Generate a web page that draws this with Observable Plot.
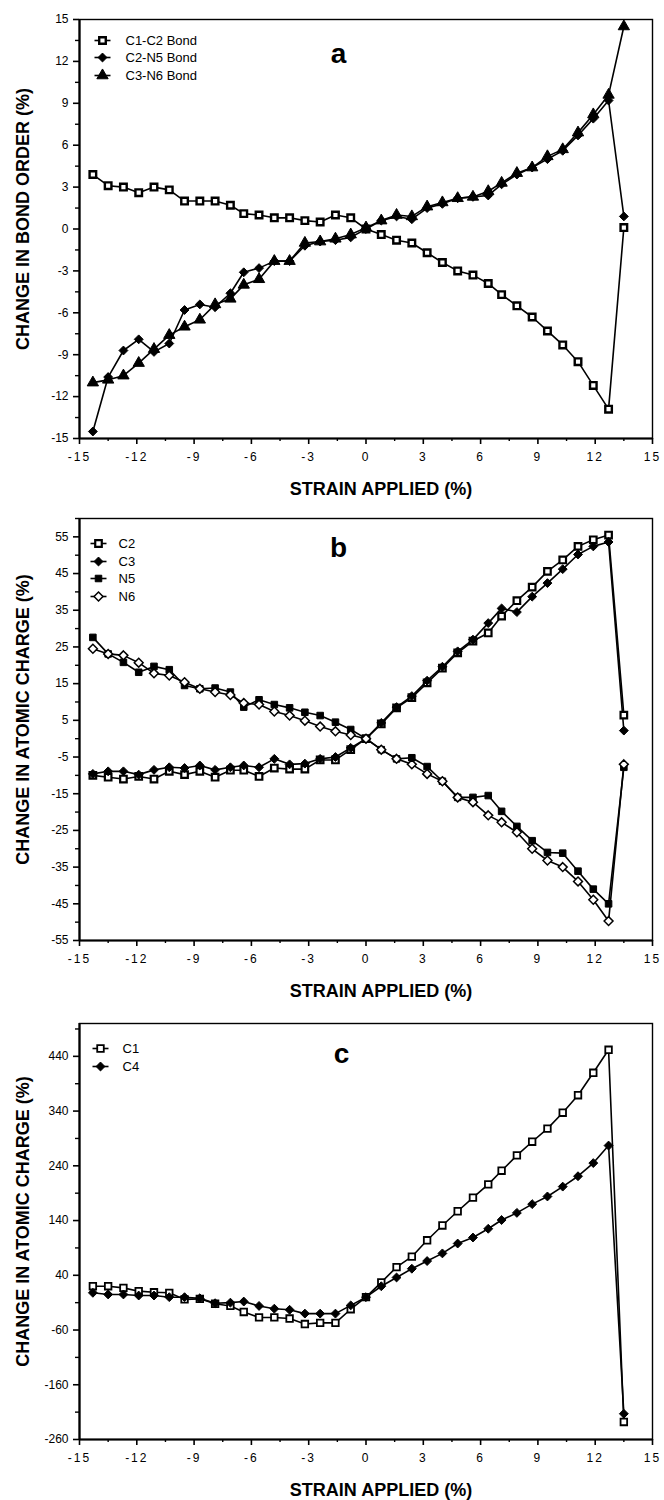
<!DOCTYPE html>
<html><head><meta charset="utf-8">
<script src="https://cdn.jsdelivr.net/npm/d3@7"></script>
<script src="https://cdn.jsdelivr.net/npm/@observablehq/plot@0.6"></script>
<style>
body{margin:0;background:#fff;}
#chart svg{display:block;}
g[aria-label="x-axis tick label"] text{letter-spacing:2px;}
</style></head><body><div id="chart"></div>
<script>
// strain applied (%) — common x values
const strain = [-14.3,-13.5,-12.7,-11.9,-11.1,-10.3,-9.5,-8.7,-7.9,-7.1,-6.4,-5.6,-4.8,-4.0,-3.2,-2.4,-1.6,-0.8,0,0.8,1.6,2.4,3.2,4.0,4.8,5.6,6.4,7.1,7.9,8.7,9.5,10.3,11.1,11.9,12.7,13.5];

// panel a: change in bond order (%)
const bondC1C2 = [3.9,3.1,3.0,2.6,3.0,2.8,2.0,2.0,2.0,1.7,1.1,1.0,0.8,0.8,0.6,0.5,1.0,0.8,0.0,-0.4,-0.8,-1.0,-1.7,-2.4,-3.0,-3.3,-3.9,-4.7,-5.5,-6.3,-7.3,-8.3,-9.5,-11.2,-12.9,0.1];
const bondC2N5 = [-14.5,-10.6,-8.7,-7.9,-8.8,-8.2,-5.8,-5.4,-5.6,-4.6,-3.1,-2.8,-2.3,-2.3,-1.2,-0.9,-0.8,-0.6,0.0,0.6,0.9,0.7,1.5,1.8,2.2,2.3,2.4,3.2,3.9,4.4,5.0,5.6,6.7,7.9,9.2,0.9];
const bondC3N6 = [-11.0,-10.8,-10.5,-9.6,-8.6,-7.6,-7.0,-6.5,-5.4,-5.0,-4.0,-3.6,-2.3,-2.3,-1.0,-0.9,-0.7,-0.4,0.1,0.6,1.0,0.9,1.6,1.9,2.2,2.3,2.7,3.3,4.0,4.4,5.2,5.7,6.9,8.2,9.6,14.5];

// panel b: change in atomic charge (%)
const chargeC2 = [-10,-10.5,-11,-10.3,-11,-8.9,-9.8,-8.9,-10.5,-8.6,-8.6,-10.3,-8.0,-8.3,-8.3,-5.8,-5.8,-3.0,0,4.0,8.4,11.2,15.2,19.2,23.4,26.6,28.8,33.4,37.6,41.3,45.6,48.7,52.4,54.2,55.5,6.4];
const chargeC3 = [-9.6,-8.9,-8.9,-9.8,-8.5,-7.8,-8.0,-7.3,-8.5,-7.8,-7.3,-7.8,-5.5,-7.0,-6.8,-5.5,-5.0,-2.5,0,4.3,8.6,11.6,15.8,19.6,23.8,27.0,31.5,35.5,34.5,38.7,42.4,46.2,50.2,52.4,53.6,2.2];
const chargeN5 = [27.6,23.1,20.8,18.1,19.7,18.8,14.5,13.6,13.8,12.7,8.6,10.6,9.3,8.4,7.2,6.3,4.5,2.5,0,-3.0,-5.5,-5.2,-7.6,-11.6,-16.0,-16.0,-15.5,-19.8,-23.9,-27.8,-31.0,-31.2,-36.1,-41.0,-45.0,-7.8];
const chargeN6 = [24.5,23.1,22.7,20.7,17.8,17.2,15.4,13.6,12.7,11.9,9.7,9.3,7.4,6.3,4.9,3.3,2.0,1.0,0,-3.0,-5.5,-7.0,-9.6,-11.6,-16.0,-17.3,-20.9,-22.8,-25.5,-30.0,-33.2,-35.0,-38.9,-43.9,-49.7,-7.0];

// panel c: change in atomic charge (%)
const chargeC1 = [20,20,17,11,9,8,-4,-3,-12,-16,-27,-37,-37,-39,-49,-47,-47,-22,0,27,55,74,104,131,157,182,206,231,259,284,308,337,369,410,452,-228];
const chargeC4 = [8,5,5,3,3,0,0,-2,-11,-10,-8,-16,-21,-23,-30,-30,-30,-15,0,20,36,52,66,80,98,109,125,141,154,170,184,202,221,245,277,-213];

// tick values
const xMajor = [-15,-12,-9,-6,-3,0,3,6,9,12,15];
const xMinor = [-13.5,-10.5,-7.5,-4.5,-1.5,1.5,4.5,7.5,10.5,13.5];
const yMajorA = [-15,-12,-9,-6,-3,0,3,6,9,12,15];
const yMinorA = [-13.5,-10.5,-7.5,-4.5,-1.5,1.5,4.5,7.5,10.5,13.5];
const yMajorB = [-55,-45,-35,-25,-15,-5,5,15,25,35,45,55];
const yMinorB = [-50,-40,-30,-20,-10,0,10,20,30,40,50,60];
const yMajorC = [-260,-160,-60,40,140,240,340,440];
const yMinorC = [-210,-110,-10,90,190,290,390,490];

const FONT = '"Liberation Sans", Arial, Helvetica, sans-serif';
const lineSym = {draw(ctx){ctx.moveTo(-8,0);ctx.lineTo(8,0);}};

function panel(o) {
  const data = o.series.flatMap(s => strain.map((x, i) => ({x, y: s.values[i], name: s.name})));
  const marks = [
    Plot.frame({stroke: "#000", strokeWidth: 1.4}),
    Plot.ruleX([-15], {stroke: "#000", strokeWidth: 2.2}),
    Plot.ruleY([o.yDomain[0]], {stroke: "#000", strokeWidth: 2.2}),
    Plot.axisX(xMajor, {tickSize: 6, tickPadding: 8, strokeWidth: 1.6, tickFormat: d => String(d), fontSize: 12, label: null}),
    Plot.axisX(xMinor, {tickSize: 3, strokeWidth: 1.4, tickFormat: () => "", label: null}),
    Plot.axisY(o.yMajor, {tickSize: 6, tickPadding: 5, strokeWidth: 1.6, tickFormat: d => String(d), fontSize: 12, label: null}),
    Plot.axisY(o.yMinor, {tickSize: 4, strokeWidth: 1.4, tickFormat: () => "", label: null}),
    Plot.line(data, {x: "x", y: "y", z: "name", stroke: "#000", strokeWidth: 1.6})
  ];
  o.series.forEach((s, i) => {
    marks.push(Plot.dot(data.filter(d => d.name === s.name), {x: "x", y: "y", symbol: s.symbol, r: s.r, fill: s.fill, stroke: "#000", strokeWidth: s.sw}));
    marks.push(Plot.dot([0], {frameAnchor: "top-left", dx: o.legDx, dy: o.legDy[i], symbol: lineSym, stroke: "#000", strokeWidth: 1.6, fill: "none"}));
    marks.push(Plot.dot([0], {frameAnchor: "top-left", dx: o.legDx, dy: o.legDy[i], symbol: s.symbol, r: s.r, fill: s.fill, stroke: "#000", strokeWidth: s.sw}));
    marks.push(Plot.text([s.name], {frameAnchor: "top-left", dx: o.txtDx, dy: o.legDy[i], text: d => d, textAnchor: "start", lineAnchor: "middle", fontSize: 13}));
  });
  marks.push(Plot.text([o.letter], {frameAnchor: "top-left", dx: o.letDx, dy: o.letDy, text: d => d, textAnchor: "middle", fontSize: 28, fontWeight: "bold", lineAnchor: "middle"}));
  marks.push(Plot.text(["STRAIN APPLIED (%)"], {frameAnchor: "bottom", dx: 15, dy: 51, text: d => d, textAnchor: "middle", fontSize: 18, fontWeight: "bold", lineAnchor: "middle"}));
  marks.push(Plot.text([o.yTitle], {frameAnchor: "left", dx: -56, dy: -10, rotate: -90, text: d => d, textAnchor: "middle", fontSize: 18, fontWeight: "bold", lineAnchor: "middle"}));
  return Plot.plot({
    width: 664, height: 500,
    marginLeft: 79, marginRight: 12, marginTop: o.mt, marginBottom: o.mb,
    x: {domain: [-15, 15], label: null},
    y: {domain: o.yDomain, label: null},
    style: {fontFamily: FONT, fontSize: "12px", color: "#000", background: "#fff", overflow: "visible"},
    marks
  });
}

const chart = document.getElementById("chart");
chart.append(panel({
  series: [
    {name: "C1-C2 Bond", values: bondC1C2, symbol: "square", r: 3.7, fill: "#fff", sw: 2.4},
    {name: "C2-N5 Bond", values: bondC2N5, symbol: "diamond2", r: 4.0, fill: "#000", sw: 1},
    {name: "C3-N6 Bond", values: bondC3N6, symbol: "triangle", r: 4.2, fill: "#000", sw: 1}
  ],
  yDomain: [-15, 15], yMajor: yMajorA, yMinor: yMinorA, mt: 19, mb: 62,
  legDx: 23, txtDx: 46, legDy: [21, 38, 56], letter: "a", letDx: 259, letDy: 35,
  yTitle: "CHANGE IN BOND ORDER (%)"
}));
chart.append(panel({
  series: [
    {name: "C2", values: chargeC2, symbol: "square", r: 3.7, fill: "#fff", sw: 2.2},
    {name: "C3", values: chargeC3, symbol: "diamond2", r: 4.0, fill: "#000", sw: 1},
    {name: "N5", values: chargeN5, symbol: "square", r: 3.7, fill: "#000", sw: 1},
    {name: "N6", values: chargeN6, symbol: "diamond2", r: 4.0, fill: "#fff", sw: 1.5}
  ],
  yDomain: [-55, 60], yMajor: yMajorB, yMinor: yMinorB, mt: 18, mb: 60,
  legDx: 19, txtDx: 39, legDy: [25, 43, 60, 78], letter: "b", letDx: 259, letDy: 30,
  yTitle: "CHANGE IN ATOMIC CHARGE (%)"
}));
chart.append(panel({
  series: [
    {name: "C1", values: chargeC1, symbol: "square", r: 3.7, fill: "#fff", sw: 1.8},
    {name: "C4", values: chargeC4, symbol: "diamond2", r: 4.0, fill: "#000", sw: 1}
  ],
  yDomain: [-260, 500], yMajor: yMajorC, yMinor: yMinorC, mt: 23, mb: 61,
  legDx: 21, txtDx: 43, legDy: [25, 43], letter: "c", letDx: 262, letDy: 31,
  yTitle: "CHANGE IN ATOMIC CHARGE (%)"
}));
</script></body></html>
